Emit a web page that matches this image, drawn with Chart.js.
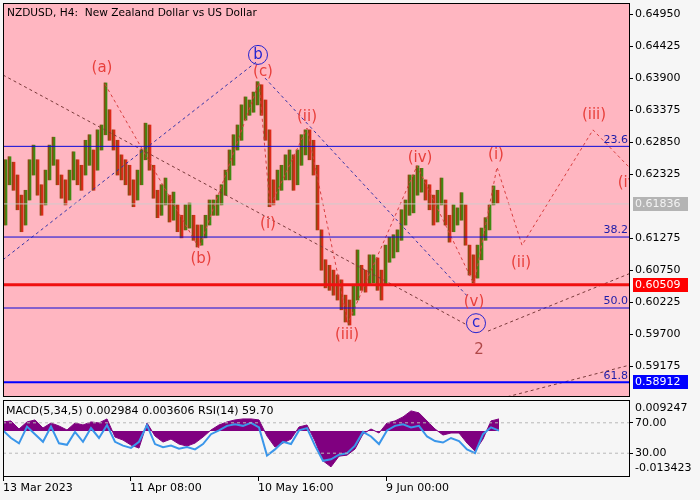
<!DOCTYPE html>
<html>
<head>
<meta charset="utf-8">
<script src="https://cdn.jsdelivr.net/npm/chart.js@4.4.1/dist/chart.umd.min.js"></script>
<style>
  html, body { margin: 0; padding: 0; background: #f6f6f6; }
  #wrap { position: relative; width: 700px; height: 500px; overflow: hidden; }
  #main { position: absolute; left: 0; top: 0; }
  #ind { position: absolute; left: 0; top: 398px; }
</style>
</head>
<body>
<div id="wrap">
  <canvas id="main" width="700" height="399"></canvas>
  <canvas id="ind" width="700" height="102"></canvas>
</div>
<script>
// ---------- textos
const title = 'NZDUSD, H4:  New Zealand Dollar vs US Dollar';
const indCaption = 'MACD(5,34,5) 0.002984 0.003606 RSI(14) 59.70';

// ---------- eixos (x = nº de barras H4 desde o início da janela)
const xTickPos = [0, 127, 255, 383];
const xTickLabels = ['13 Mar 2023', '11 Apr 08:00', '10 May 16:00', '9 Jun 00:00'];
const yTicks = [0.59175, 0.59700, 0.60225, 0.60750, 0.61275, 0.62325, 0.62850, 0.63375, 0.63900, 0.64425, 0.64950];
const yMin = 0.58686, yMax = 0.65131;

// ---------- preço (máxima / mínima de cada grupo de 4 candles)
const barHigh = [0.6256,0.6261,0.6252,0.6231,0.6198,0.6206,0.6256,0.6280,0.6256,0.6215,
  0.6239,0.6280,0.6293,0.6256,0.6231,0.6223,0.6239,0.6269,0.6256,0.6247,
  0.6288,0.6297,0.6272,0.6305,0.6313,0.6382,0.6338,0.6305,0.6288,0.6264,
  0.6256,0.6247,0.6223,0.6239,0.6272,0.6316,0.6313,0.6247,0.6206,0.6215,
  0.6226,0.6198,0.6203,0.6182,0.6165,0.6182,0.6185,0.6165,0.6149,0.6149,
  0.6165,0.6190,0.6190,0.6198,0.6215,0.6239,0.6272,0.6297,0.6313,0.6346,
  0.6359,0.6354,0.6367,0.6384,0.6379,0.6354,0.6305,0.6223,0.6239,0.6247,
  0.6264,0.6272,0.6264,0.6272,0.6297,0.6305,0.6305,0.6288,0.6247,0.6141,
  0.6092,0.6083,0.6075,0.6067,0.6059,0.6034,0.6026,0.6051,0.6108,0.6083,
  0.6075,0.6100,0.6100,0.6095,0.6075,0.6116,0.6129,0.6133,0.6141,0.6174,
  0.6190,0.6231,0.6231,0.6246,0.6242,0.6223,0.6215,0.6198,0.6206,0.6226,
  0.6190,0.6165,0.6182,0.6177,0.6202,0.6182,0.6116,0.6100,0.6116,0.6144,
  0.6161,0.6182,0.6213,0.6206];
const barLow = [0.6149,0.6215,0.6206,0.6174,0.6138,0.6149,0.6190,0.6231,0.6198,0.6165,
  0.6182,0.6223,0.6247,0.6215,0.6193,0.6182,0.6190,0.6223,0.6215,0.6206,
  0.6231,0.6247,0.6206,0.6239,0.6272,0.6297,0.6288,0.6272,0.6231,0.6223,
  0.6215,0.6198,0.6179,0.6190,0.6215,0.6256,0.6239,0.6193,0.6161,0.6165,
  0.6182,0.6154,0.6157,0.6138,0.6128,0.6141,0.6144,0.6124,0.6113,0.6116,
  0.6128,0.6149,0.6165,0.6165,0.6182,0.6198,0.6223,0.6247,0.6272,0.6288,
  0.6321,0.6329,0.6334,0.6346,0.6329,0.6288,0.6179,0.6182,0.6190,0.6206,
  0.6223,0.6223,0.6206,0.6215,0.6247,0.6264,0.6256,0.6231,0.6141,0.6075,
  0.6046,0.6042,0.6034,0.6026,0.6010,0.5990,0.5985,0.6001,0.6026,0.6042,
  0.6039,0.6051,0.6054,0.6042,0.6026,0.6051,0.6088,0.6095,0.6105,0.6124,
  0.6149,0.6165,0.6169,0.6198,0.6203,0.6190,0.6174,0.6149,0.6154,0.6182,
  0.6149,0.6121,0.6138,0.6149,0.6157,0.6116,0.6067,0.6054,0.6062,0.6092,
  0.6124,0.6141,0.6182,0.6185];

// ---------- níveis
const fibPrices = [0.62780, 0.61293, 0.60129, 0.58912];
const fibLabels = ['23.6', '38.2', '50.0', '61.8'];
const supportPrice = 0.60509;
const lastPrice = 0.61836;

// ---------- ondas (x em barras, y em preço)
const waveX = [102, 196, 256, 267, 304, 345, 414, 471, 494, 519, 590, 626];
const waveY = [0.6380, 0.6111, 0.6383, 0.6179, 0.6308, 0.5988, 0.6246, 0.6052, 0.6244, 0.6116, 0.6305, 0.6244];
const channelX = [0, 463];          const channelY = [0.6395, 0.5986];
const channelUpX = [485, 626];      const channelUpY = [0.5975, 0.6069];
const lowerX = [487, 626];          const lowerY = [0.5860, 0.5919];
const blueUpX = [0, 253];           const blueUpY = [0.6092, 0.6416];
const blueDownX = [262, 464];       const blueDownY = [0.6390, 0.6033];

const waveLabels = ['(a)', '(b)', '(c)', '(i)', '(ii)', '(iii)', '(iv)', '(v)', '(i)', '(ii)', '(iii)', '(iv)'];
const waveLabelX = [99, 198, 260, 265, 304, 344, 417, 471, 493, 518, 591, 627];
const waveLabelY = [0.6406, 0.6093, 0.6400, 0.6151, 0.6326, 0.5969, 0.6259, 0.6023, 0.6264, 0.6087, 0.6329, 0.6218];
const circleLabels = ['b', 'c'];
const circleX = [255, 473];
const circleY = [0.6428, 0.5988];
const degreeLabel = '2';
const degreeX = 476, degreeY = 0.5944;

// ---------- indicadores (a cada 8 barras)
const macdHist = [0.0027,0.0030,0.0006,0.0027,0.0033,0.0009,0.0024,0.0015,0.0003,0.0024,
  0.0018,0.0027,0.0024,0.0036,-0.0018,-0.0027,-0.0042,-0.0051,0.0024,-0.0015,
  -0.0033,-0.0024,-0.0039,-0.0045,-0.0036,-0.0018,0.0003,0.0018,0.0027,0.0033,
  0.0036,0.0036,0.0033,-0.0015,-0.0048,-0.0036,-0.0024,0.0012,0.0018,-0.0030,
  -0.0089,-0.0107,-0.0075,-0.0072,-0.0054,-0.0009,0.0006,-0.0006,0.0024,0.0030,
  0.0042,0.0060,0.0054,0.0030,0.0006,-0.0012,-0.0006,-0.0006,-0.0036,-0.0060,
  -0.0024,0.0030,0.0036];
const rsiVals = [60,50,43,65,55,45,65,43,41,58,45,63,50,67,45,40,37,45,67,42,
  38,40,36,38,35,42,55,60,66,68,66,70,64,27,35,45,42,60,63,40,
  20,22,28,30,40,58,52,42,60,66,68,64,66,52,46,44,50,46,35,30,
  55,64,59.7];
const rsiLevels = [30, 70];
const macdMin = -0.013423, macdMax = 0.009247;

// ---------- cores
const UP = '#3f8a12', DOWN = '#dc2a18', WICK = '#8a4a12';
const PINK = '#ffb6c1';
const WAVE_RED = '#e8403c';
const LABEL_BLUE = '#2424d0';

Chart.defaults.font.family = '"DejaVu Sans", sans-serif';
Chart.defaults.font.size = 11;
Chart.defaults.color = '#000';

const barX = barHigh.map((_, i) => 4 * i + 2);
const barMid = barHigh.map((h, i) => (h + barLow[i]) / 2);
const barColors = barMid.map((m, i) => (i === 0 || m >= barMid[i - 1]) ? UP : DOWN);
const indX = macdHist.map((_, i) => 8 * i);

function seg(xs, ys, color, width, dash, yAxisID) {
  return {
    type: 'line', yAxisID,
    data: xs.map((x, i) => ({ x, y: ys[i] })),
    borderColor: color, borderWidth: width, borderDash: dash || [],
    pointRadius: 0, fill: false, tension: 0, order: 0
  };
}
const hline = (v, color, width, dash, yAxisID) => seg([0, 626], [v, v], color, width, dash, yAxisID);
// sem margem extra para os rótulos das pontas
const noPad = s => { s.paddingTop = 0; s.paddingBottom = 0; s.paddingLeft = 0; s.paddingRight = 0; };

// fundo + moldura do painel
const panePlugin = {
  id: 'pane',
  beforeDraw(chart, args, opts) {
    const { ctx, chartArea: a } = chart;
    ctx.save();
    ctx.fillStyle = opts.color;
    ctx.fillRect(a.left, a.top, a.right - a.left, a.bottom - a.top);
    ctx.restore();
  },
  afterDraw(chart) {
    const { ctx, chartArea: a } = chart;
    ctx.save();
    ctx.strokeStyle = '#000';
    ctx.lineWidth = 1;
    ctx.strokeRect(Math.round(a.left) + 0.5, Math.round(a.top) + 0.5, Math.round(a.right - a.left), Math.round(a.bottom - a.top));
    ctx.restore();
  }
};

function priceBox(chart, v, bg, fg) {
  const { ctx, chartArea: a, scales: { y } } = chart;
  const py = Math.round(y.getPixelForValue(v));
  ctx.fillStyle = bg;
  ctx.fillRect(a.right + 4, py - 7, 55, 14);
  ctx.fillStyle = fg;
  ctx.textAlign = 'left';
  ctx.textBaseline = 'middle';
  ctx.fillText(v.toFixed(5), a.right + 6, py + 0.5);
}

const mainText = {
  id: 'mainText',
  afterDatasetsDraw(chart) {
    const { ctx, chartArea: a, scales: { x, y } } = chart;
    ctx.save();
    ctx.beginPath();
    ctx.rect(a.left, a.top, a.right - a.left, a.bottom - a.top);
    ctx.clip();
    ctx.textAlign = 'center';
    ctx.textBaseline = 'middle';
    ctx.font = '15px "DejaVu Sans", sans-serif';
    ctx.fillStyle = WAVE_RED;
    waveLabels.forEach((t, i) => ctx.fillText(t, x.getPixelForValue(waveLabelX[i]), y.getPixelForValue(waveLabelY[i])));
    ctx.fillStyle = '#b04848';
    ctx.fillText(degreeLabel, x.getPixelForValue(degreeX), y.getPixelForValue(degreeY));
    ctx.strokeStyle = LABEL_BLUE;
    ctx.fillStyle = LABEL_BLUE;
    ctx.lineWidth = 1;
    circleLabels.forEach((t, i) => {
      const cx = x.getPixelForValue(circleX[i]), cy = y.getPixelForValue(circleY[i]);
      ctx.beginPath();
      ctx.arc(cx, cy, 9.5, 0, Math.PI * 2);
      ctx.stroke();
      ctx.fillText(t, cx, cy);
    });
    ctx.font = '11px "DejaVu Sans", sans-serif';
    ctx.fillStyle = '#1c1ca8';
    ctx.textAlign = 'right';
    ctx.textBaseline = 'bottom';
    fibLabels.forEach((t, i) => ctx.fillText(t, a.right - 1, y.getPixelForValue(fibPrices[i]) - 1));
    ctx.restore();
  },
  afterDraw(chart) {
    const { ctx } = chart;
    ctx.save();
    ctx.font = '10.6px "DejaVu Sans", sans-serif';
    ctx.fillStyle = '#000';
    ctx.textAlign = 'left';
    ctx.textBaseline = 'middle';
    ctx.fillText(title, 7, 13);
    ctx.font = '11px "DejaVu Sans", sans-serif';
    priceBox(chart, lastPrice, '#b4b4b4', '#f2f2f2');
    priceBox(chart, supportPrice, '#ff0000', '#ffffff');
    priceBox(chart, fibPrices[3], '#0000ff', '#ffffff');
    ctx.restore();
  }
};

new Chart(document.getElementById('main'), {
  type: 'bar',
  data: {
    datasets: [
      {
        type: 'bar', order: 10,
        data: barX.map((x, i) => ({ x, y: [barLow[i], barHigh[i]] })),
        backgroundColor: barColors, barPercentage: 1, categoryPercentage: 1
      },
      {
        type: 'bar', order: 9,
        data: barX.map((x, i) => ({ x, y: [barLow[i], barHigh[i]] })),
        backgroundColor: WICK, barThickness: 1
      },
      hline(lastPrice, 'rgba(205,205,205,0.9)', 1),
      hline(fibPrices[0], '#0a0ad8', 1),
      hline(fibPrices[1], '#0a0ad8', 1),
      hline(fibPrices[2], '#0a0ad8', 1),
      hline(fibPrices[3], '#0000ff', 2),
      hline(supportPrice, '#f01010', 3),
      seg(channelX, channelY, '#7a3a3a', 1, [3, 3]),
      seg(channelUpX, channelUpY, '#7a3a3a', 1, [3, 3]),
      seg(lowerX, lowerY, '#7a3a3a', 1, [3, 3]),
      seg(blueUpX, blueUpY, '#3434a8', 1, [3, 3]),
      seg(blueDownX, blueDownY, '#3434a8', 1, [3, 3]),
      seg(waveX, waveY, '#d84040', 1, [3, 3])
    ]
  },
  options: {
    responsive: false, animation: false,
    layout: { padding: { left: 3, top: 3, right: 0, bottom: 3 } },
    plugins: { legend: { display: false }, tooltip: { enabled: false }, pane: { color: PINK } },
    scales: {
      x: { type: 'linear', min: 0, max: 626, offset: false, display: false, stacked: false },
      y: {
        position: 'right', min: yMin, max: yMax,
        afterBuildTicks: s => { s.ticks = yTicks.map(v => ({ value: v })); },
        afterFit: s => { s.width = 71; noPad(s); },
        grid: { drawOnChartArea: false, tickLength: 4, color: '#000' },
        border: { color: '#000' },
        ticks: { padding: 2, color: '#000', callback: v => v.toFixed(5) }
      }
    }
  },
  plugins: [panePlugin, mainText]
});

// ---------- painel MACD / RSI
const indText = {
  id: 'indText',
  afterDraw(chart) {
    const { ctx, chartArea: a } = chart;
    ctx.save();
    ctx.font = '11px "DejaVu Sans", sans-serif';
    ctx.fillStyle = '#000';
    ctx.textAlign = 'left';
    ctx.textBaseline = 'middle';
    ctx.fillText(indCaption, 6, a.top + 11);
    ctx.fillText(macdMax.toFixed(6), a.right + 6, a.top + 8);
    ctx.fillText(macdMin.toFixed(6), a.right + 6, a.bottom - 8);
    ctx.restore();
  }
};

new Chart(document.getElementById('ind'), {
  type: 'line',
  data: {
    datasets: [
      {
        yAxisID: 'yM', order: 5,
        data: indX.map((x, i) => ({ x, y: macdHist[i] })),
        borderColor: '#800080', backgroundColor: '#800080', borderWidth: 1,
        fill: 'origin', pointRadius: 0, tension: 0
      },
      hline(rsiLevels[0], '#b8b8b8', 1, [3, 3], 'yR'),
      hline(rsiLevels[1], '#b8b8b8', 1, [3, 3], 'yR'),
      {
        yAxisID: 'yR', order: 1,
        data: indX.map((x, i) => ({ x, y: rsiVals[i] })),
        borderColor: '#3a96ea', borderWidth: 2, pointRadius: 0, tension: 0, fill: false
      }
    ]
  },
  options: {
    responsive: false, animation: false,
    layout: { padding: { left: 3, top: 2, right: 0, bottom: 0 } },
    plugins: { legend: { display: false }, tooltip: { enabled: false }, pane: { color: '#f6f6f6' } },
    scales: {
      x: {
        type: 'linear', min: 0, max: 626, offset: false,
        afterBuildTicks: s => { s.ticks = xTickPos.map(v => ({ value: v })); },
        afterFit: s => { s.height = 24; noPad(s); },
        grid: { drawOnChartArea: false, tickLength: 5, color: '#000' },
        border: { color: '#000' },
        ticks: {
          align: 'start', padding: 1, maxRotation: 0, autoSkip: false, color: '#000',
          callback: v => xTickLabels[xTickPos.indexOf(v)]
        }
      },
      yR: {
        position: 'right', min: 0, max: 100,
        afterBuildTicks: s => { s.ticks = rsiLevels.map(v => ({ value: v })); },
        afterFit: s => { s.width = 71; noPad(s); },
        grid: { drawOnChartArea: false, tickLength: 4, color: '#000' },
        border: { color: '#000' },
        ticks: { padding: 2, color: '#000', callback: v => v.toFixed(2) }
      },
      yM: { display: false, min: macdMin, max: macdMax }
    }
  },
  plugins: [panePlugin, indText]
});
</script>
</body>
</html>
